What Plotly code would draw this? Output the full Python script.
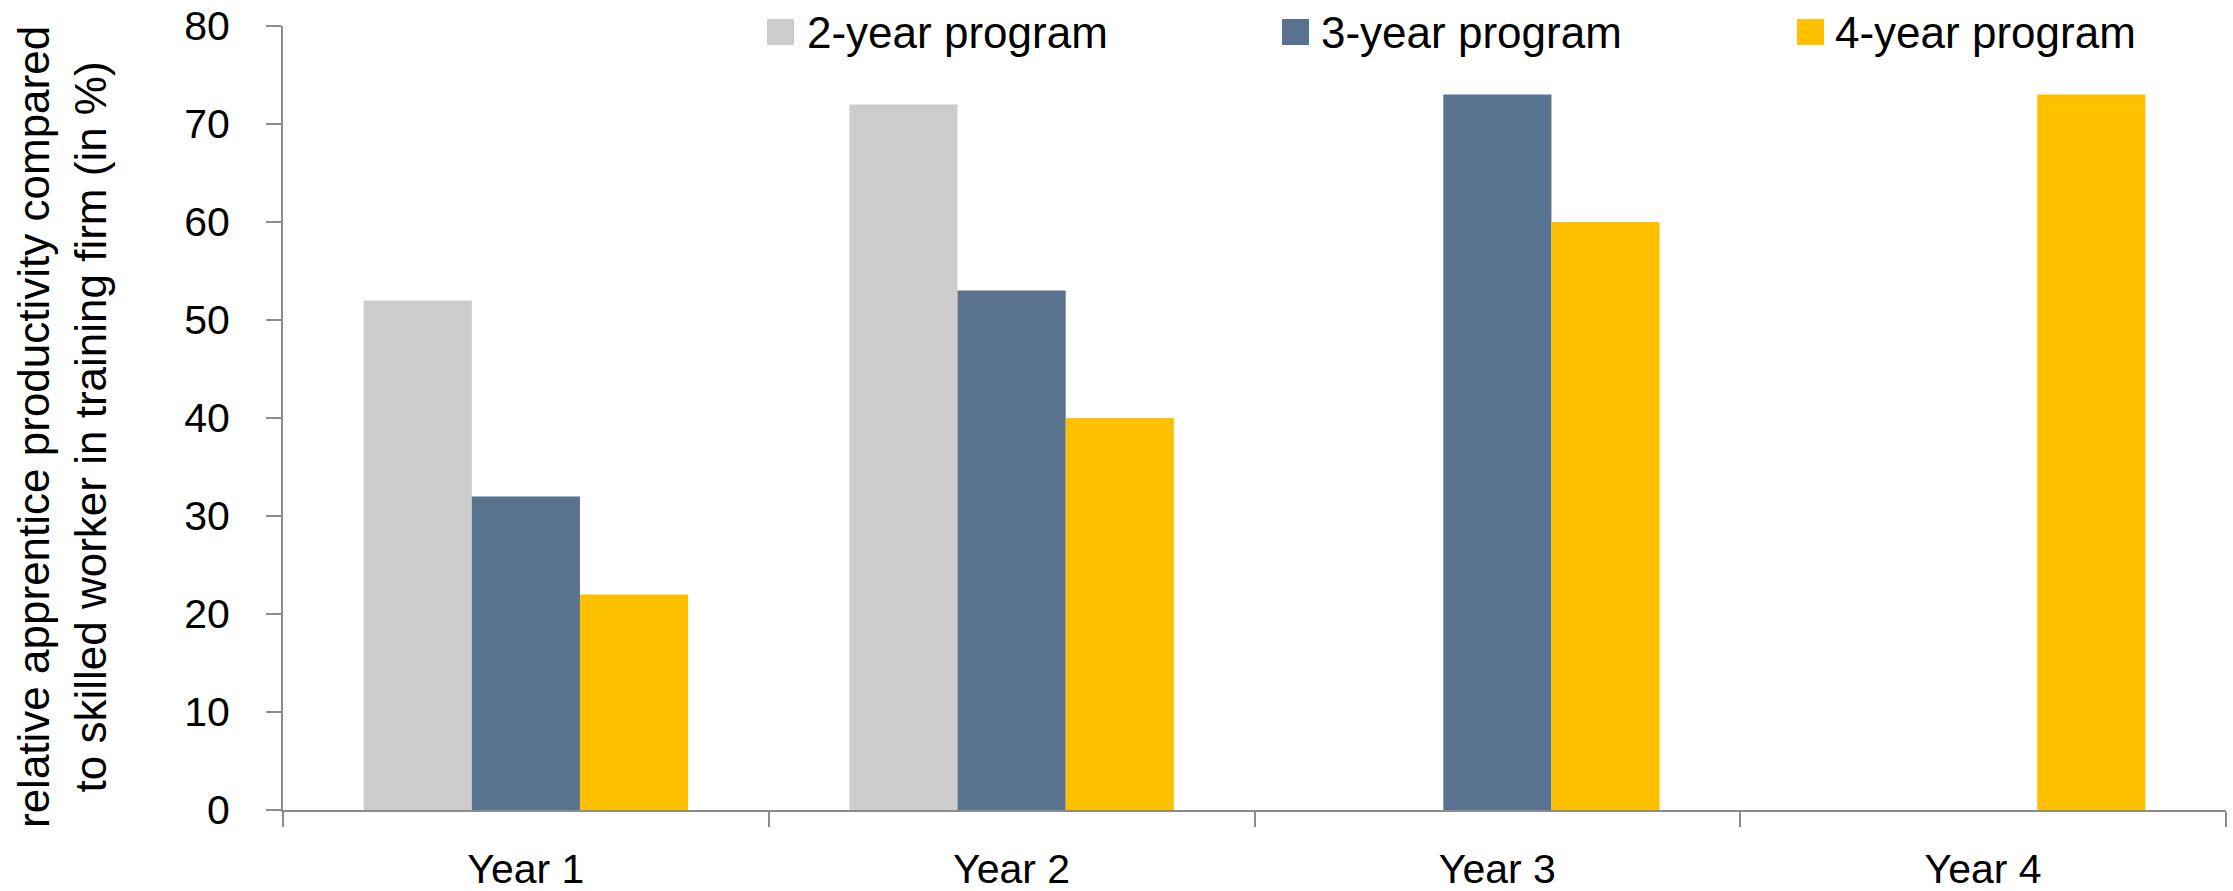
import plotly.graph_objects as go

categories = ["Year 1", "Year 2", "Year 3", "Year 4"]
series_names = ["2-year program", "3-year program", "4-year program"]
two_year = [52, 72, None, None]
three_year = [32, 53, 73, None]
four_year = [22, 40, 60, 73]
colors = ["#CCCCCC", "#587290", "#FFC000"]
y_ticks = [0, 10, 20, 30, 40, 50, 60, 70, 80]
y_title = "relative apprentice productivity compared<br>to skilled worker in training firm (in %)"

FONT = "Liberation Sans, Arial, sans-serif"

fig = go.Figure()
for name, vals, col in zip(series_names, [two_year, three_year, four_year], colors):
    fig.add_trace(go.Bar(x=categories, y=vals, name=name, marker=dict(color=col, line=dict(width=0))))

W, H = 2233, 891
L, R, T, B = 283, 7, 26, 81
pw = W - L - R
ph = H - T - B

def px_x(x):
    return (x - L) / pw

def px_y(y):
    return (H - B - y) / ph

# enlarged legend swatches placed under the native legend symbols
LEG_X0, LEG_STEP, SW = 767, 515, 27
shapes = []
for i, col in enumerate(colors):
    x0 = LEG_X0 + LEG_STEP * i
    shapes.append(dict(type="rect", xref="paper", yref="paper",
                       x0=px_x(x0), x1=px_x(x0 + SW), y0=px_y(45), y1=px_y(19),
                       fillcolor=col, line=dict(width=0), layer="above"))

fig.update_layout(
    width=W, height=H,
    margin=dict(l=L, r=R, t=T, b=B, autoexpand=False),
    paper_bgcolor="white", plot_bgcolor="white",
    barmode="group", bargap=0.332, bargroupgap=0,
    font=dict(family=FONT, size=41, color="black"),
    showlegend=True,
    legend=dict(
        orientation="h", x=px_x(767), xanchor="left", y=px_y(31), yanchor="middle",
        font=dict(family=FONT, size=44, color="black"),
        entrywidth=469, entrywidthmode="pixels",
        bgcolor="rgba(0,0,0,0)", traceorder="normal",
    ),
    shapes=shapes,
    xaxis=dict(
        type="category", categoryorder="array", categoryarray=categories,
        showline=True, linecolor="#8C8C8C", linewidth=2,
        ticks="outside", tickson="boundaries", ticklen=15, tickcolor="#8C8C8C", tickwidth=2,
        tickfont=dict(family=FONT, size=41, color="black"),
        ticklabelstandoff=22, showgrid=False, zeroline=False,
    ),
    yaxis=dict(
        range=[0, 80], tickvals=y_ticks, ticktext=[str(v) for v in y_ticks],
        showline=True, linecolor="#8C8C8C", linewidth=2,
        ticks="outside", ticklen=15, tickcolor="#8C8C8C", tickwidth=2,
        tickfont=dict(family=FONT, size=41, color="black"),
        ticklabelstandoff=28, showgrid=False, zeroline=False,
    ),
    annotations=[dict(
        text=y_title, textangle=-90, xref="paper", yref="paper",
        x=px_x(62), y=px_y(427), xanchor="center", yanchor="middle",
        showarrow=False, font=dict(family=FONT, size=44, color="black"), align="center",
    )],
)

fig.write_html("out.html")
